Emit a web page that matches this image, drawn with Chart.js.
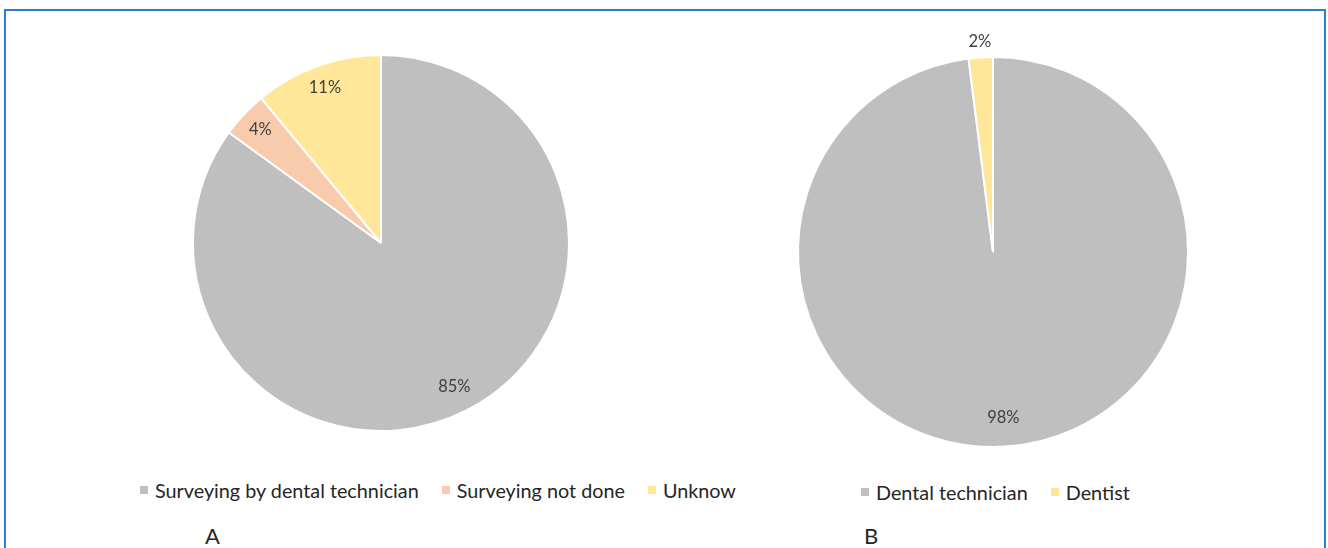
<!DOCTYPE html>
<html>
<head>
<meta charset="utf-8">
<script src="https://cdn.jsdelivr.net/npm/chart.js@4.4.1/dist/chart.umd.min.js"></script>
<style>
  body { margin: 0; background: #fff; font-family: Lato, "Open Sans", sans-serif; }
  #page { position: relative; width: 1328px; height: 548px; overflow: hidden; }
  #frame { position: absolute; left: 4px; top: 9px; width: 1318px; height: 560px; border: 2px solid #2a80cf; }
  .box { position: absolute; }
  .legend { position: absolute; display: flex; align-items: center; font-size: 19.8px; color: #262626; white-space: nowrap; }
  .legend span.item { display: flex; align-items: center; margin-right: 23px; }
  .legend i { display: inline-block; width: 8px; height: 8px; margin-right: 7px; }
  .tag { position: absolute; font-size: 22px; color: #262626; }
</style>
</head>
<body>
<div id="page">
  <div id="frame"></div>
  <div class="box" style="left:150px; top:20px; width:460px; height:450px;"><canvas id="chartA"></canvas></div>
  <div class="box" style="left:760px; top:10px; width:466px; height:460px;"><canvas id="chartB"></canvas></div>
  <div class="legend" id="legendA" style="left:140px; top:478px;"></div>
  <div class="legend" id="legendB" style="left:861px; top:480px;"></div>
  <div class="tag" style="left:205px; top:522px;">A</div>
  <div class="tag" style="left:864px; top:522px;">B</div>
</div>
<script>
// Datos de cada gráfico
const labelsA = ['Surveying by dental technician', 'Surveying not done', 'Unknow'];
const valuesA = [85, 4, 11];
const colorsA = ['#bfbfbf', '#f8cbad', '#ffe699'];

const labelsB = ['Dental technician', 'Dentist'];
const valuesB = [98, 2];
const colorsB = ['#bfbfbf', '#ffe699'];

// Distancia de cada etiqueta al centro (fracción del radio)
const labelDistA = [0.86, 0.88, 0.88];
const labelDistB = [0.85, 1.08];

// Plugin para escribir los porcentajes sobre cada porción
const pctLabels = {
    id: 'pctLabels',
    afterDatasetsDraw(chart, args, opts) {
        const ctx = chart.ctx;
        const meta = chart.getDatasetMeta(0);
        const data = chart.data.datasets[0].data;
        ctx.save();
        ctx.font = '16.5px Lato, "Open Sans", sans-serif';
        ctx.fillStyle = '#404040';
        ctx.textAlign = 'center';
        ctx.textBaseline = 'middle';
        meta.data.forEach((arc, i) => {
            const p = arc.getProps(['x', 'y', 'startAngle', 'endAngle', 'outerRadius'], true);
            const mid = (p.startAngle + p.endAngle) / 2;
            const r = p.outerRadius * opts.dist[i];
            ctx.fillText(data[i] + '%', p.x + Math.cos(mid) * r, p.y + Math.sin(mid) * r);
        });
        ctx.restore();
    }
};

function buildLegend(id, labels, colors) {
    const el = document.getElementById(id);
    labels.forEach((txt, i) => {
        const item = document.createElement('span');
        item.className = 'item';
        item.innerHTML = '<i style="background:' + colors[i] + '"></i>' + txt;
        el.appendChild(item);
    });
}

function makePie(canvasId, labels, values, colors, dist, padding) {
    const ctx = document.getElementById(canvasId).getContext('2d');
    return new Chart(ctx, {
        type: 'pie',
        data: {
            labels: labels,
            datasets: [{
                data: values,
                backgroundColor: colors,
                borderColor: '#ffffff',
                borderWidth: 2
            }]
        },
        options: {
            responsive: true,
            maintainAspectRatio: false,
            animation: false,
            layout: { padding: padding },
            plugins: {
                legend: { display: false },
                tooltip: { enabled: false },
                pctLabels: { dist: dist }
            }
        },
        plugins: [pctLabels]
    });
}

makePie('chartA', labelsA, valuesA, colorsA, labelDistA, { left: 42, top: 34, right: 40, bottom: 38 });
makePie('chartB', labelsB, valuesB, colorsB, labelDistB, { left: 37, top: 46, right: 37, bottom: 22 });

buildLegend('legendA', labelsA, colorsA);
buildLegend('legendB', labelsB, colorsB);
</script>
</body>
</html>
